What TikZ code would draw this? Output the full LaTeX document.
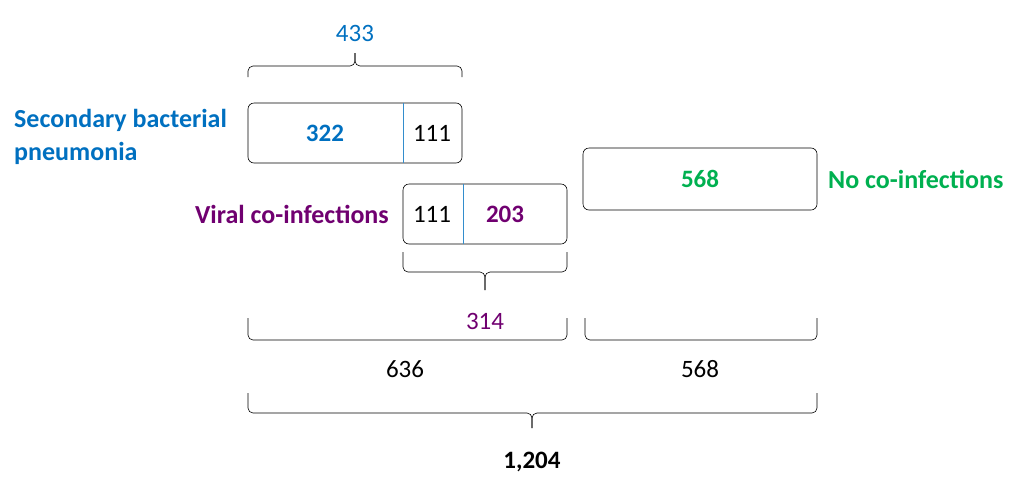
\documentclass[tikz,border=0pt]{standalone}
\usepackage{fontspec}
\setmainfont{Carlito}
\usetikzlibrary{calc}
\definecolor{sbpblue}{RGB}{0,112,192}
\definecolor{viralpurple}{RGB}{112,0,112}
\definecolor{nogreen}{RGB}{0,176,80}
\tikzset{
  box/.style={draw, rounded corners=6pt, semithick, minimum height=60pt, inner sep=0pt},
  brace/.style={draw, semithick, rounded corners=5pt},
  lbl/.style={font=\fontsize{25}{30}\selectfont, inner sep=0pt},
  blbl/.style={font=\fontsize{25}{30}\selectfont\bfseries, inner sep=0pt},
}
\begin{document}
\begin{tikzpicture}[x=1pt, y=-1pt]
    \useasboundingbox (0,0) rectangle (1024,496);

    % boxes
    \node (sbp) [box, minimum width=214pt] at (355,133) {};
    \draw [sbpblue!80] (403,103) -- (403,163);
    \node [blbl, text=sbpblue] at (325,133) {322};
    \node [lbl] at (432,133) {111};

    \node (vir) [box, minimum width=164pt] at (485,214) {};
    \draw [sbpblue!80] (463,184) -- (463,244);
    \node [lbl] at (432,214) {111};
    \node [blbl, text=viralpurple] at (505,214) {203};

    \node (none) [box, minimum width=234pt, minimum height=62pt] at (700,179) {};
    \node [blbl, text=nogreen] at (700,179) {568};

    % group labels
    \node [blbl, font=\fontsize{26}{33}\selectfont\bfseries, text=sbpblue, align=left, anchor=west] at (14,137) {Secondary bacterial\\pneumonia};
    \node [blbl, font=\fontsize{26}{30}\selectfont\bfseries, text=viralpurple, anchor=east] at (389,214) {Viral co-infections};
    \node [blbl, font=\fontsize{26}{30}\selectfont\bfseries, text=nogreen, anchor=west] at (828,179) {No co-infections};

    % braces
    \draw [brace] (248,77) -- (248,66) -- (355,66) -- (355,53);
    \draw [brace] (355,53) -- (355,66) -- (462,66) -- (462,77);
    \node [lbl, text=sbpblue] at (355,33) {433};

    \draw [brace] (403,252) -- (403,272) -- (485,272) -- (485,290);
    \draw [brace] (485,290) -- (485,272) -- (567,272) -- (567,252);
    \node [lbl, text=viralpurple] at (485,321) {314};

    \draw [brace] (248,318) -- (248,340) -- (567,340) -- (567,318);
    \node [lbl] at (405,369) {636};
    \draw [brace] (585,318) -- (585,340) -- (817,340) -- (817,318);
    \node [lbl] at (700,369) {568};

    \draw [brace] (248,393) -- (248,413) -- (532,413) -- (532,428);
    \draw [brace] (532,428) -- (532,413) -- (817,413) -- (817,393);
    \node [blbl] at (532,462) {1,204};
\end{tikzpicture}
\end{document}
